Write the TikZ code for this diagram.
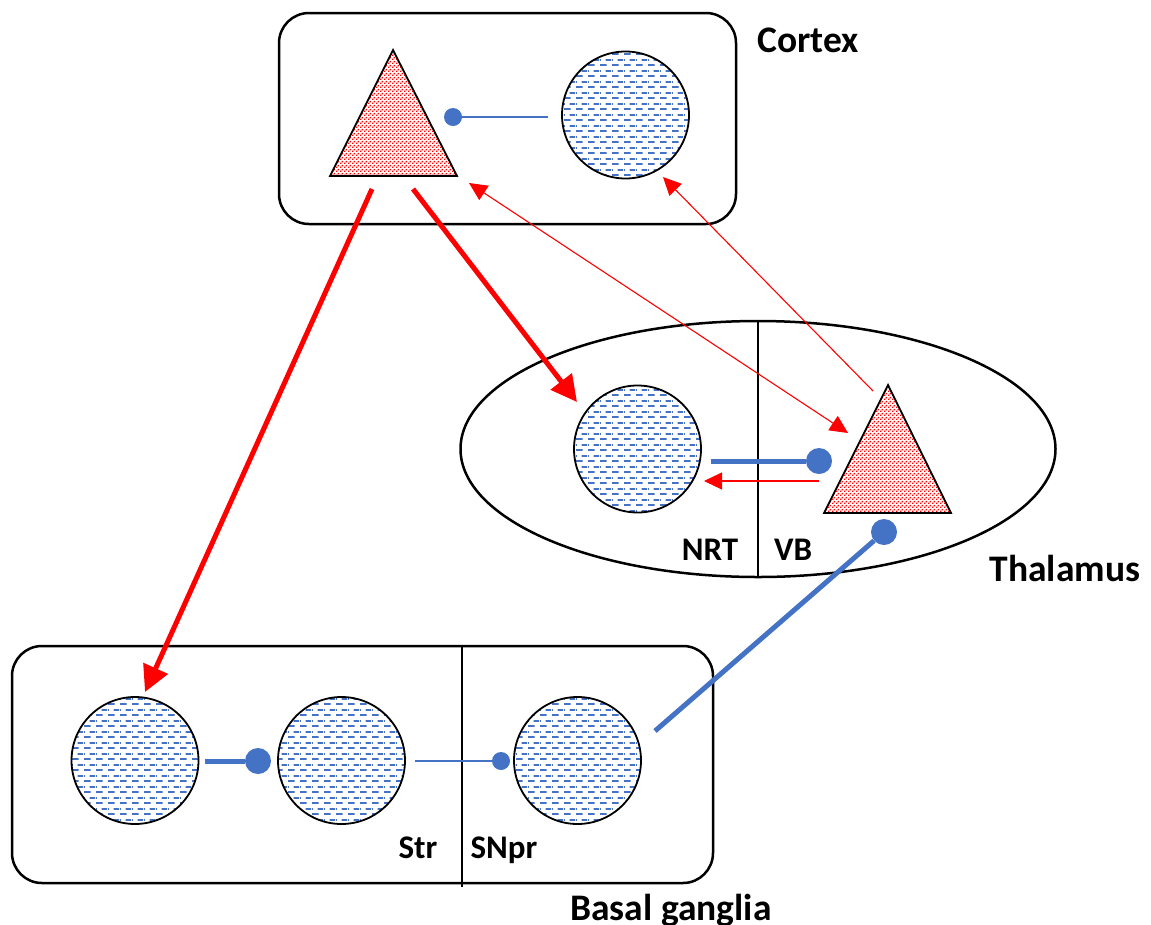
\documentclass[tikz,border=0pt]{standalone}
\usepackage{fontspec}
\setmainfont{Carlito}
\usetikzlibrary{arrows.meta,patterns,shapes.geometric}

\definecolor{inhblue}{HTML}{4472C4}
\definecolor{cellblue}{HTML}{4472C4}

% fill patterns for the two cell types
\pgfdeclarepatternformonly{bluedashes}{\pgfpointorigin}{\pgfqpoint{12pt}{11pt}}{\pgfqpoint{12pt}{11pt}}{
  \pgfpathrectangle{\pgfqpoint{0pt}{0pt}}{\pgfqpoint{7pt}{2pt}}
  \pgfpathrectangle{\pgfqpoint{6pt}{5.5pt}}{\pgfqpoint{6pt}{2pt}}
  \pgfpathrectangle{\pgfqpoint{0pt}{5.5pt}}{\pgfqpoint{1pt}{2pt}}
  \pgfusepath{fill}}
\pgfdeclarepatternformonly{reddots}{\pgfpointorigin}{\pgfqpoint{4pt}{4pt}}{\pgfqpoint{4pt}{4pt}}{
  \pgfpathrectangle{\pgfpointorigin}{\pgfqpoint{1.8pt}{1.8pt}}
  \pgfpathrectangle{\pgfqpoint{2pt}{2pt}}{\pgfqpoint{1.8pt}{1.8pt}}
  \pgfusepath{fill}}

\tikzset{
  region/.style={draw, line width=2.5pt, rounded corners=30pt, inner sep=0pt},
  cell/.style={circle, draw, line width=1.8pt, minimum size=127pt, inner sep=0pt,
    pattern=bluedashes, pattern color=cellblue},
  pyr/.style={draw, line width=1.8pt, pattern=reddots, pattern color=red},
  excite/.style={draw=red, line width=1.1pt, -{Triangle[length=18pt,width=17pt]}},
  bigexcite/.style={draw=red, line width=5pt, -{Triangle[length=26pt,width=26pt]}},
  inhib/.style={draw=inhblue, line width=5pt},
  thininhib/.style={draw=inhblue, line width=1.2pt},
  knob/.style={circle, fill=inhblue, inner sep=0pt, minimum size=26pt},
  smallknob/.style={knob, minimum size=18pt},
  lbl/.style={font=\fontsize{33}{40}\selectfont\bfseries, anchor=base, inner sep=0pt},
  biglbl/.style={lbl, font=\fontsize{37.5}{44}\selectfont\bfseries}
}

\begin{document}
\begin{tikzpicture}[x=1pt, y=-1pt]
\useasboundingbox (0,0) rectangle (1151,924);

% cortex
\node[region, minimum width=457pt, minimum height=211pt] (ctx) at (507.5,118.5) {};
\node[biglbl] (ctxlbl) at (808,52) {Cortex};
\draw[pyr] (393,50) -- (457,176) -- (330,176) -- cycle;
\node[cell] (ctxcell) at (625.5,115) {};
\node[smallknob] (ctxknob) at (453,117) {};
\coordinate (ctxcellout) at (548,117);
\draw[thininhib] (ctxcellout) -- (ctxknob);

% thalamus
\node[ellipse, draw, line width=2.5pt, minimum width=595pt, minimum height=256pt, inner sep=0pt] (thal) at (758,449) {};
\draw[line width=2pt] (thal.north) -- (thal.south);
\node[biglbl] (thallbl) at (1065,581) {Thalamus};
\node[lbl] (nrtlbl) at (710,560) {NRT};
\node[lbl] (vblbl) at (793,560) {VB};
\node[cell] (nrt) at (637.5,449) {};
\draw[pyr] (888,385) -- (951,513) -- (824,513) -- cycle;
\node[knob] (vbknob) at (819,461) {};
\node[knob] (vbknob2) at (884,532) {};
\coordinate (nrtout) at (711,461);
\draw[inhib] (nrtout) -- (vbknob);

% basal ganglia
\node[region, minimum width=701pt, minimum height=237pt] (bg) at (362.5,764.5) {};
\draw[line width=2pt] (462,646) -- (462,887);
\node[biglbl] (bglbl) at (671,920) {Basal ganglia};
\node[lbl] (strlbl) at (418,858) {Str};
\node[lbl] (snprlbl) at (504,858) {SNpr};
\node[cell] (str1) at (135,760.5) {};
\node[cell] (str2) at (341.5,760.5) {};
\node[cell] (snpr) at (577.5,760.5) {};
\node[knob] (str2knob) at (258,761) {};
\node[smallknob] (snprknob) at (501,761) {};
\coordinate (str1out) at (205,761);
\coordinate (str2out) at (415,761);
\coordinate (snprout) at (655,731);
\draw[inhib] (str1out) -- (str2knob);
\draw[thininhib] (str2out) -- (snprknob);
\draw[inhib] (snprout) -- (vbknob2);

% excitatory projections
\coordinate (ctxA) at (372,189);
\coordinate (ctxB) at (413,189);
\coordinate (str1in) at (145,692);
\coordinate (nrtin) at (577,402);
\coordinate (ctxpyrin) at (469,183);
\coordinate (vbin) at (848,433);
\coordinate (vbout) at (873,391);
\coordinate (ctxcellin) at (663,177);
\coordinate (vbside) at (819,481);
\coordinate (nrtside) at (704,481);
\draw[bigexcite] (ctxA) -- (str1in);
\draw[bigexcite] (ctxB) -- (nrtin);
\draw[excite, {Triangle[length=18pt,width=17pt]}-{Triangle[length=18pt,width=17pt]}] (ctxpyrin) -- (vbin);
\draw[excite] (vbout) -- (ctxcellin);
\draw[excite] (vbside) -- (nrtside);
\end{tikzpicture}
\end{document}
